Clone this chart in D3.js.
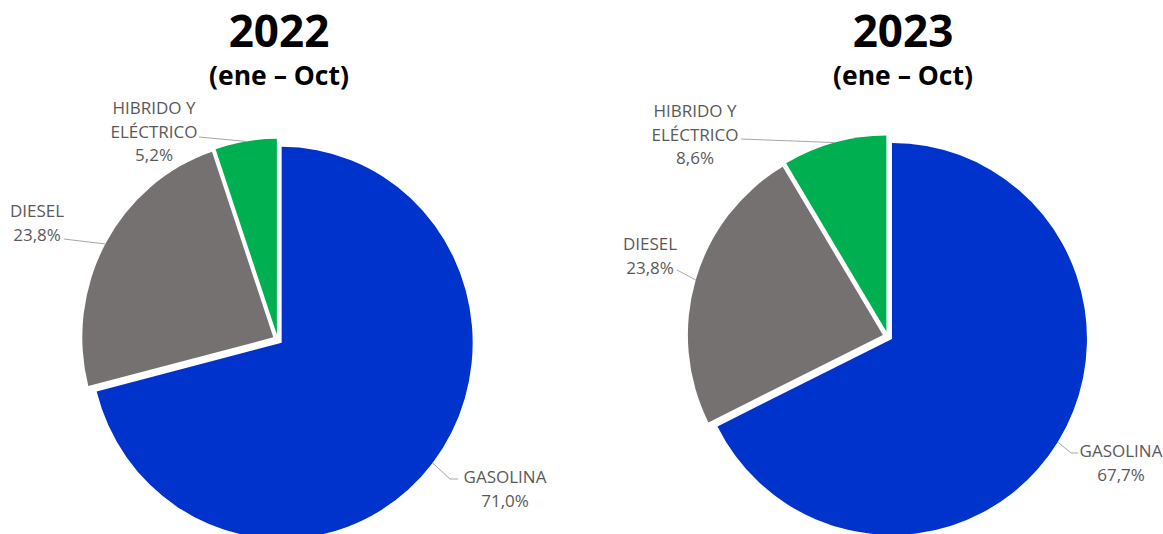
<!DOCTYPE html>
<html>
<head>
<meta charset="utf-8">
<script src="https://cdn.jsdelivr.net/npm/d3@7/dist/d3.min.js"></script>
<style>
  html, body { margin: 0; padding: 0; background: #ffffff; }
  svg { display: block; }
</style>
</head>
<body>
<svg id="chart" width="1163" height="534"></svg>
<script>
// ---- data ----
const categories = ["GASOLINA", "DIESEL", "HIBRIDO Y ELÉCTRICO"];
const labelLines = [["GASOLINA"], ["DIESEL"], ["HIBRIDO Y", "ELÉCTRICO"]];
const years = ["2022", "2023"];
const subtitle = "(ene – Oct)";
const values2022 = [71.0, 23.8, 5.2];
const values2023 = [67.7, 23.8, 8.6];
const colors = ["#0033CC", "#767171", "#00B050"];

// ---- layout ----
const svg = d3.select("#chart");
const explode = 5;
const pies = [
  { year: years[0], values: values2022, cx: 277.7, cy: 339.7, rx: 191, ry: 196, titleX: 279,
    labels: [ {x: 505, y: 477, anchor: [458, 479], bend: [450, 479]},
              {x: 37,  y: 211, anchor: [64, 239], bend: null},
              {x: 154, y: 108, anchor: [199, 137], bend: null} ] },
  { year: years[1], values: values2023, cx: 887.7, cy: 336.3, rx: 195, ry: 196, titleX: 903,
    labels: [ {x: 1121, y: 451, anchor: [1078, 453], bend: [1071, 453]},
              {x: 650,  y: 244, anchor: [677, 270], bend: null},
              {x: 695,  y: 111, anchor: [741, 139], bend: null} ] }
];

const fmt = v => d3.format(".1f")(v).replace(".", ",") + "%";
const lineH = 23.5;

pies.forEach(p => {
  // titles
  svg.append("text")
    .attr("x", p.titleX).attr("y", 47)
    .attr("text-anchor", "middle")
    .attr("font-family", "'Open Sans', sans-serif")
    .attr("font-weight", 700).attr("font-size", 44)
    .attr("fill", "#000").text(p.year);
  svg.append("text")
    .attr("x", p.titleX).attr("y", 85)
    .attr("text-anchor", "middle")
    .attr("font-family", "'Open Sans', sans-serif")
    .attr("font-weight", 700).attr("font-size", 26.5)
    .attr("fill", "#000").text(subtitle);

  const arcsData = d3.pie().sort(null).value(d => d)(p.values);
  const r = 100;
  const arc = d3.arc().innerRadius(0).outerRadius(r);
  const sx = p.rx / r, sy = p.ry / r;

  const g = svg.append("g");
  arcsData.forEach((a, i) => {
    const mid = (a.startAngle + a.endAngle) / 2;
    const ox = p.cx + explode * Math.sin(mid);
    const oy = p.cy - explode * Math.cos(mid);
    g.append("path")
      .attr("d", arc(a))
      .attr("transform", `translate(${ox},${oy}) scale(${sx},${sy})`)
      .attr("fill", colors[i]);

    // leader point on the slice's outer edge at its bisector
    const ex = ox + p.rx * Math.sin(mid);
    const ey = oy - p.ry * Math.cos(mid);
    const L = p.labels[i];
    const pts = [[ex, ey]];
    if (L.bend) pts.push(L.bend);
    pts.push(L.anchor);
    svg.append("path")
      .attr("d", d3.line()(pts))
      .attr("fill", "none")
      .attr("stroke", "#A6A6A6")
      .attr("stroke-width", 1);

    const lines = labelLines[i].concat([fmt(p.values[i])]);
    const t = svg.append("text")
      .attr("text-anchor", "middle")
      .attr("font-family", "'Open Sans', sans-serif")
      .attr("font-size", 17)
      .attr("fill", "#595959");
    lines.forEach((ln, k) => {
      t.append("tspan").attr("x", L.x).attr("y", L.y + 6 + k * lineH).text(ln);
    });
  });
});
</script>
</body>
</html>
